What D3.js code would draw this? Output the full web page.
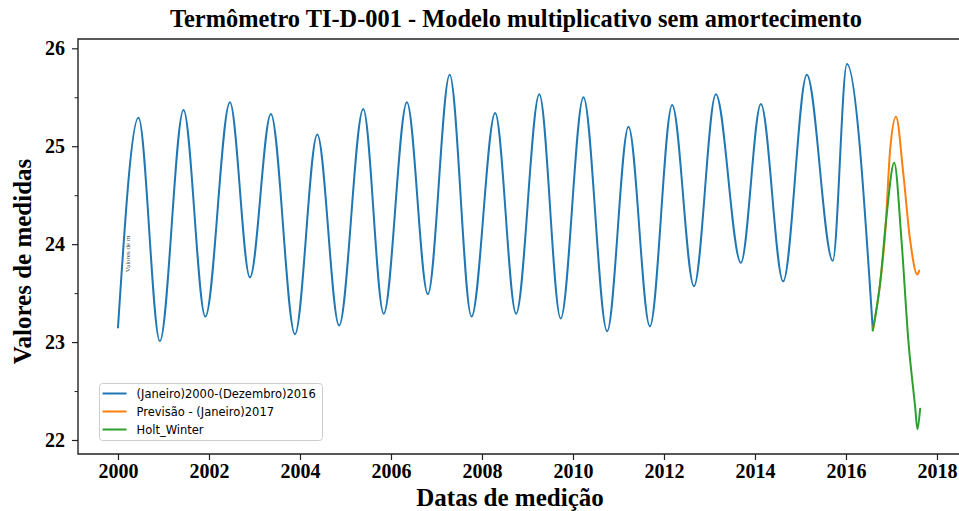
<!DOCTYPE html>
<html>
<head>
<meta charset="utf-8">
<script src="https://cdn.jsdelivr.net/npm/d3@7"></script>
<style>
  html, body { margin: 0; padding: 0; background: #fff; }
  svg { display: block; }
</style>
</head>
<body>
<svg id="chart" width="959" height="511"></svg>
<script>
// ---- Data ----
const histYears = [2000.00, 2000.45, 2000.92, 2001.44, 2001.92, 2002.46, 2002.90, 2003.36, 2003.89, 2004.38,
  2004.86, 2005.39, 2005.84, 2006.35, 2006.81, 2007.29, 2007.77, 2008.29, 2008.75, 2009.26,
  2009.73, 2010.23, 2010.75, 2011.22, 2011.69, 2012.18, 2012.66, 2013.14, 2013.69, 2014.13,
  2014.62, 2015.14, 2015.71, 2016.02, 2016.59];
const histValues = [23.15, 25.29, 23.01, 25.37, 23.26, 25.45, 23.66, 25.33, 23.08, 25.12,
  23.17, 25.38, 23.29, 25.45, 23.49, 25.73, 23.26, 25.34, 23.29, 25.53,
  23.24, 25.50, 23.11, 25.20, 23.16, 25.42, 23.57, 25.53, 23.81, 25.43,
  23.62, 25.73, 23.83, 25.84, 23.12];

const forecastYears = [2016.59, 2016.75, 2016.86, 2016.97, 2017.10, 2017.26, 2017.41, 2017.57, 2017.61];
const forecastValues = [23.12, 23.60, 24.10, 24.96, 25.30, 24.72, 24.04, 23.69, 23.73];

const hwYears = [2016.59, 2016.75, 2016.89, 2017.06, 2017.22, 2017.37, 2017.52, 2017.57, 2017.63];
const hwValues = [23.12, 23.60, 24.28, 24.83, 24.04, 23.02, 22.34, 22.11, 22.32];

const seriesNames = ["(Janeiro)2000-(Dezembro)2016", "Previsão - (Janeiro)2017", "Holt_Winter"];
const seriesColors = ["#1f77b4", "#ff7f0e", "#2ca02c"];

const xTickValues = [2000, 2002, 2004, 2006, 2008, 2010, 2012, 2014, 2016, 2018];
const yTickValues = [22, 23, 24, 25, 26];
const yMinorTickValues = [22.5, 23.5, 24.5, 25.5];

const titleText = "Termômetro TI-D-001 - Modelo multiplicativo sem amortecimento";
const xLabelText = "Datas de medição";
const yLabelText = "Valores de medidas";

// ---- Layout ----
const W = 959, H = 511;
const plot = { left: 78, right: 959, top: 39, bottom: 454 };

const svg = d3.select("#chart");

const x = d3.scaleLinear()
  .domain([1999.121, 2018.484])
  .range([plot.left, plot.right]);
const y = d3.scaleLinear()
  .domain([21.857, 26.095])
  .range([plot.bottom, plot.top]);

const serif = "'Liberation Serif', 'Times New Roman', serif";
const sans = "'DejaVu Sans', sans-serif";

// clip
svg.append("clipPath").attr("id", "clip")
  .append("rect").attr("x", plot.left).attr("y", plot.top)
  .attr("width", plot.right - plot.left).attr("height", plot.bottom - plot.top);

const line = d3.line()
  .x(d => x(d[0]))
  .y(d => y(d[1]))
  .curve(d3.curveMonotoneX);

const seriesData = [
  d3.zip(histYears, histValues),
  d3.zip(forecastYears, forecastValues),
  d3.zip(hwYears, hwValues)
];

const g = svg.append("g").attr("clip-path", "url(#clip)");
seriesData.forEach((data, i) => {
  g.append("path")
    .datum(data)
    .attr("d", line)
    .attr("fill", "none")
    .attr("stroke", seriesColors[i])
    .attr("stroke-width", 2)
    .attr("stroke-linejoin", "round")
    .attr("stroke-linecap", "round");
});

// faint residual text (from original chart)
svg.append("text")
  .attr("transform", `translate(${x(2000.26)},${y(23.9)}) rotate(-90)`)
  .attr("text-anchor", "middle")
  .attr("font-family", serif)
  .attr("font-size", 7)
  .attr("fill", "#444")
  .text("Valores de m");

// ---- Axes ----
const xAxis = d3.axisBottom(x).tickValues(xTickValues).tickFormat(d3.format("d")).tickSize(6).tickPadding(4);
const xg = svg.append("g").attr("transform", `translate(0,${plot.bottom})`).call(xAxis);
xg.select(".domain").remove();
xg.selectAll(".tick line").attr("stroke", "#222").attr("stroke-width", 1.2);
xg.selectAll(".tick text")
  .attr("font-family", serif).attr("font-weight", "bold").attr("font-size", 20).attr("fill", "#000");

const yAxis = d3.axisLeft(y).tickValues(yTickValues).tickFormat(d3.format("d")).tickSize(6).tickPadding(7);
const yg = svg.append("g").attr("transform", `translate(${plot.left},0)`).call(yAxis);
yg.select(".domain").remove();
yg.selectAll(".tick line").attr("stroke", "#222").attr("stroke-width", 1.2);
yg.selectAll(".tick text")
  .attr("font-family", serif).attr("font-weight", "bold").attr("font-size", 20).attr("fill", "#000");

const yMinor = d3.axisLeft(y).tickValues(yMinorTickValues).tickFormat("").tickSize(3.5);
const ym = svg.append("g").attr("transform", `translate(${plot.left},0)`).call(yMinor);
ym.select(".domain").remove();
ym.selectAll(".tick line").attr("stroke", "#222").attr("stroke-width", 1);

// spines
svg.append("path")
  .attr("d", `M${plot.right},${plot.top}H${plot.left}V${plot.bottom}H${plot.right}`)
  .attr("fill", "none").attr("stroke", "#222").attr("stroke-width", 1.4);

// ---- Titles ----
svg.append("text")
  .attr("x", 516).attr("y", 27)
  .attr("text-anchor", "middle")
  .attr("font-family", serif).attr("font-weight", "bold").attr("font-size", 25)
  .attr("textLength", 692).attr("lengthAdjust", "spacingAndGlyphs")
  .text(titleText);

svg.append("text")
  .attr("x", 510).attr("y", 506)
  .attr("text-anchor", "middle")
  .attr("font-family", serif).attr("font-weight", "bold").attr("font-size", 25)
  .text(xLabelText);

svg.append("text")
  .attr("transform", `translate(31,${(plot.top + plot.bottom) / 2 + 15}) rotate(-90)`)
  .attr("text-anchor", "middle")
  .attr("font-family", serif).attr("font-weight", "bold").attr("font-size", 25)
  .text(yLabelText);

// ---- Legend ----
const lg = svg.append("g").attr("transform", "translate(99.5,383.5)");
lg.append("rect")
  .attr("width", 223).attr("height", 57).attr("rx", 3)
  .attr("fill", "#fff").attr("fill-opacity", 0.8)
  .attr("stroke", "#cccccc").attr("stroke-width", 1);
seriesNames.forEach((name, i) => {
  const row = lg.append("g").attr("transform", `translate(0,${10 + i * 18})`);
  row.append("line").attr("x1", 3).attr("x2", 27).attr("y1", 0).attr("y2", 0)
    .attr("stroke", seriesColors[i]).attr("stroke-width", 2);
  row.append("text").attr("x", 37).attr("y", 0).attr("dy", "0.35em")
    .attr("font-family", sans).attr("font-size", 11.5).attr("fill", "#000")
    .text(name);
});
</script>
</body>
</html>
